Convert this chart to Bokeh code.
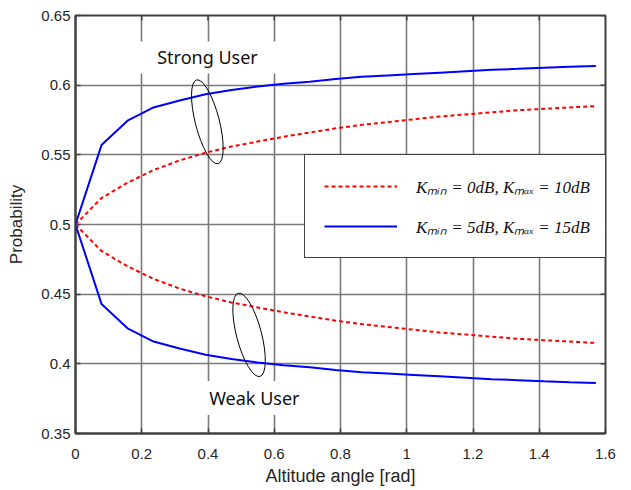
from bokeh.plotting import figure
from bokeh.models import Range1d, FixedTicker, CustomJSTickFormatter, Legend, LegendItem
from bokeh.core.properties import value
from bokeh.embed import file_html
from bokeh.resources import INLINE

# ---------------- data ----------------
angle = [0.0, 0.0785, 0.1571, 0.2356, 0.3142, 0.3927, 0.4712, 0.5498, 0.6283, 0.7069,
         0.7854, 0.8639, 0.9425, 1.0210, 1.0996, 1.1781, 1.2566, 1.3352, 1.4137, 1.4923, 1.5708]

strong_k0 = [0.5, 0.519, 0.530, 0.539, 0.546, 0.5515, 0.556, 0.5595, 0.563, 0.566,
             0.569, 0.5715, 0.5735, 0.5755, 0.5775, 0.579, 0.5805, 0.582, 0.583, 0.584, 0.585]
weak_k0 = [0.5, 0.481, 0.470, 0.461, 0.454, 0.4485, 0.444, 0.4405, 0.437, 0.434,
           0.431, 0.4285, 0.4265, 0.4245, 0.4225, 0.421, 0.4195, 0.418, 0.417, 0.416, 0.415]

strong_k5 = [0.5, 0.557, 0.5745, 0.584, 0.589, 0.5935, 0.5965, 0.599, 0.601, 0.6025,
             0.6045, 0.606, 0.607, 0.608, 0.609, 0.610, 0.611, 0.6117, 0.6125, 0.6132, 0.6138]
weak_k5 = [0.5, 0.443, 0.4255, 0.416, 0.411, 0.4065, 0.4035, 0.401, 0.399, 0.3975,
           0.3955, 0.394, 0.393, 0.392, 0.391, 0.390, 0.389, 0.3883, 0.3875, 0.3868, 0.3862]

x_ticks = [0, 0.2, 0.4, 0.6, 0.8, 1.0, 1.2, 1.4, 1.6]
y_ticks = [0.35, 0.4, 0.45, 0.5, 0.55, 0.6, 0.65]

label_k0 = "K\u2098\u1d62\u2099 = 0dB, K\u2098\u2090\u2093 = 10dB"
label_k5 = "K\u2098\u1d62\u2099 = 5dB, K\u2098\u2090\u2093 = 15dB"

annot_text = ["Strong User", "Weak User"]
annot_x = [0.3985, 0.540]
annot_y = [0.6199, 0.3755]
ell_x = [0.398, 0.524]
ell_y = [0.5737, 0.4208]

# ---------------- figure ----------------
TXT = "#262626"
FRAME = "#404040"
X0, X1, Y0, Y1 = 0, 1.6, 0.35, 0.65
p = figure(width=616, height=490,
           x_range=Range1d(X0, X1), y_range=Range1d(Y0, Y1),
           output_backend="svg", toolbar_location=None,
           min_border_left=75, min_border_right=11, min_border_top=15, min_border_bottom=57,
           background_fill_color="white", border_fill_color="white")

p.outline_line_color = FRAME
p.outline_line_width = 2
p.outline_line_alpha = 1

fmt = CustomJSTickFormatter(code="return tick.toString();")

for ax in (p.xaxis[0], p.yaxis[0]):
    ax.formatter = fmt
    ax.major_tick_in = 5
    ax.major_tick_out = 0
    ax.minor_tick_line_color = None
    ax.axis_line_color = FRAME
    ax.axis_line_width = 2
    ax.major_tick_line_color = FRAME
    ax.major_tick_line_width = 1.5
    ax.major_label_text_color = TXT
    ax.major_label_text_font = "Liberation Sans"
    ax.major_label_text_font_size = "15px"
    ax.axis_label_text_font = "Liberation Sans"
    ax.axis_label_text_font_style = "normal"
    ax.axis_label_text_color = TXT
    ax.axis_label_text_font_size = "17px"

p.xaxis[0].ticker = FixedTicker(ticks=x_ticks)
p.yaxis[0].ticker = FixedTicker(ticks=y_ticks)
p.xaxis[0].axis_label = "Altitude angle [rad]"
p.yaxis[0].axis_label = "Probability"
p.xaxis[0].axis_label_text_font_size = "18px"
p.xaxis[0].major_label_standoff = 15
p.xaxis[0].axis_label_standoff = 4
p.yaxis[0].major_label_standoff = 5
p.yaxis[0].axis_label_standoff = 12

p.grid.grid_line_color = "#7a7a7a"
p.grid.grid_line_width = 1.6
p.grid.grid_line_alpha = 1

# inward ticks on top and right edges (box on)
p.ray(x=x_ticks, y=[Y1] * len(x_ticks), length=5, length_units="screen",
      angle=-1.5708, line_color=FRAME, line_width=1.5)
p.ray(x=[X1] * len(y_ticks), y=y_ticks, length=5, length_units="screen",
      angle=3.1416, line_color=FRAME, line_width=1.5)

# white boxes behind annotation texts
p.rect(x=annot_x, y=annot_y, width=[144, 140], height=[32, 34],
       width_units="screen", height_units="screen",
       fill_color="white", line_color=None)

# curves
r0s = p.line(angle, strong_k0, line_color="#ff0000", line_width=2, line_dash="4 3")
r0w = p.line(angle, weak_k0, line_color="#ff0000", line_width=2, line_dash="4 3")
r5s = p.line(angle, strong_k5, line_color="#0000ff", line_width=2)
r5w = p.line(angle, weak_k5, line_color="#0000ff", line_width=2)

# ellipses
p.ellipse(x=ell_x, y=ell_y, width=[86.5, 86], height=[24, 25], angle=[1.822, 1.826],
          width_units="screen", height_units="screen",
          fill_color=None, line_color="black", line_width=1)

# annotation texts
p.text(x=annot_x, y=annot_y, text=annot_text, text_align="center", text_baseline="middle",
       text_font=value("Noto Sans"), text_font_size="18px", text_color="#111111")

legend = Legend(items=[LegendItem(label=label_k0, renderers=[r0s]),
                       LegendItem(label=label_k5, renderers=[r5s])],
                location=(229, 175), margin=0,
                border_line_color=FRAME, border_line_width=1.5, border_line_alpha=1,
                background_fill_color="white", background_fill_alpha=1,
                padding=19, spacing=16, glyph_width=73, glyph_height=24,
                label_height=24, label_standoff=19,
                label_text_font="Liberation Serif", label_text_font_style="italic",
                label_text_font_size="17px", label_text_color="#111111")
p.add_layout(legend)

open("out.html", "w").write(file_html(p, INLINE))
